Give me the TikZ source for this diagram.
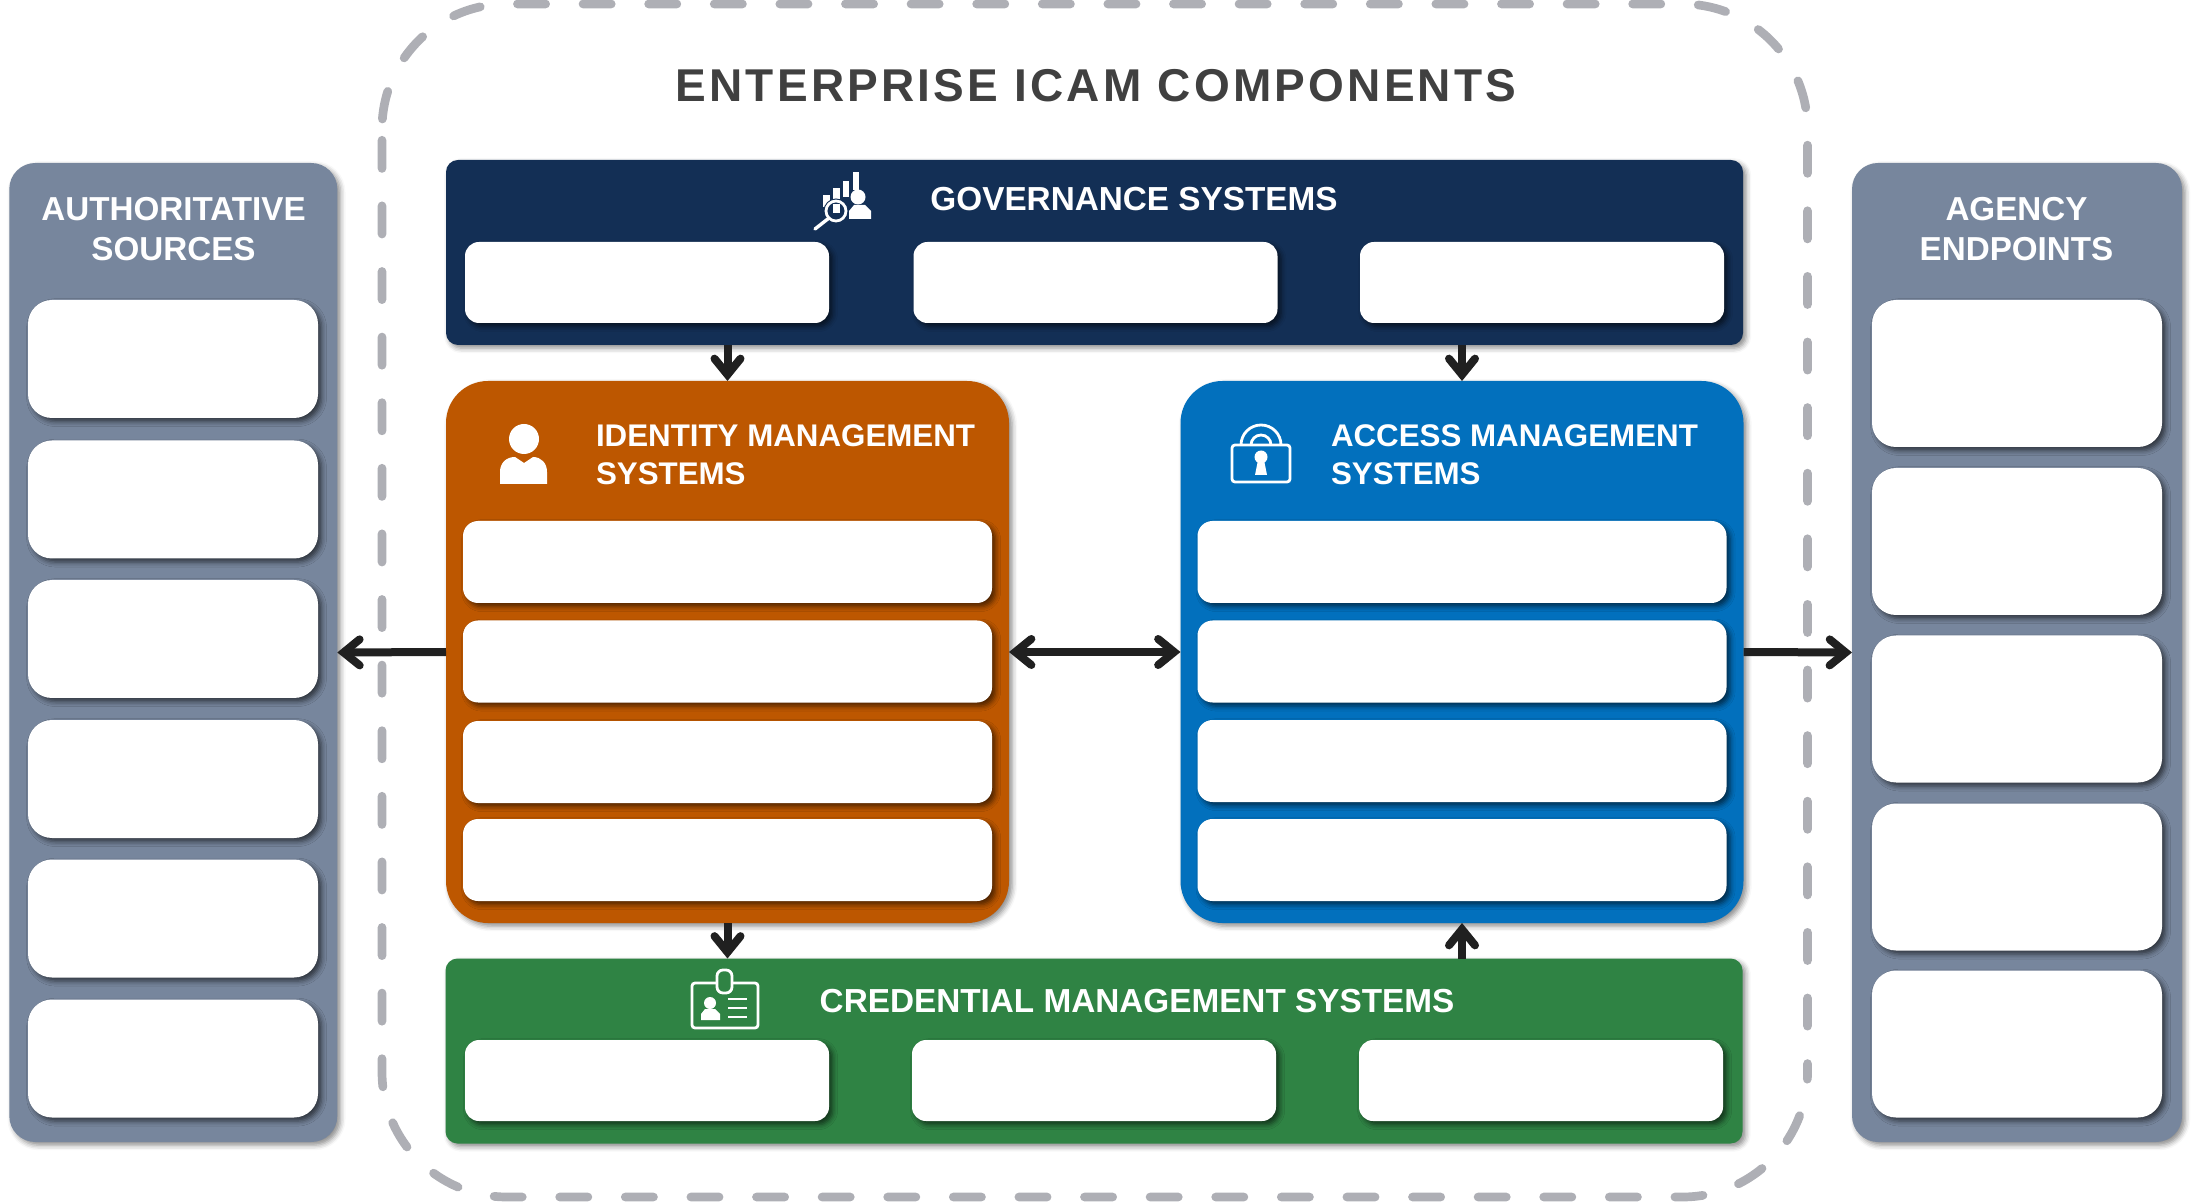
\documentclass[tikz,border=0pt]{standalone}
\usepackage{fontspec}
\setmainfont{Liberation Sans}
\usepackage{tikz}
\usetikzlibrary{arrows.meta,shadows.blur}
\definecolor{navy}{HTML}{132F55}
\definecolor{rust}{HTML}{BD5700}
\definecolor{azure}{HTML}{0270BD}
\definecolor{leaf}{HTML}{2F8344}
\definecolor{slate}{HTML}{77869D}
\definecolor{dashgrey}{HTML}{AEAFB5}
\definecolor{ink}{HTML}{202020}
\definecolor{titlegrey}{HTML}{404040}

\begin{document}
\begin{tikzpicture}[x=0.5pt,y=-0.5pt]
\tikzstyle{every node}+=[inner sep=0pt,outer sep=0pt]
\tikzstyle{soft}=[blur shadow={shadow xshift=1.6pt,shadow yshift=-1.6pt,shadow blur radius=2.5pt,shadow opacity=45}]
\tikzstyle{softer}=[blur shadow={shadow xshift=1.8pt,shadow yshift=-1.8pt,shadow blur radius=2.5pt,shadow opacity=60}]
\tikzstyle{outer}=[rectangle,soft]
\tikzstyle{sidepanel}=[outer,fill=slate,rounded corners=13pt,minimum height=489.5pt]
\tikzstyle{barpanel}=[outer,rounded corners=6pt,minimum width=648.5pt,minimum height=92.5pt]
\tikzstyle{tallpanel}=[outer,rounded corners=21pt,minimum width=281.5pt,minimum height=271pt]
\tikzstyle{sideitem}=[rectangle,softer,fill=white,rounded corners=12pt,minimum width=145pt]
\tikzstyle{baritem}=[rectangle,softer,fill=white,rounded corners=7pt,minimum width=182pt,minimum height=40.5pt]
\tikzstyle{wideitem}=[rectangle,softer,fill=white,rounded corners=7.5pt,minimum width=264.5pt,minimum height=41pt]
\tikzstyle{heading}=[text=white,font=\bfseries\fontsize{16.6}{20}\selectfont,align=center]
\tikzstyle{headleft}=[text=white,font=\bfseries\fontsize{15.65}{19}\selectfont,align=left,anchor=west]
\tikzstyle{barhead}=[text=white,font=\bfseries\fontsize{16.65}{20}\selectfont]
\tikzstyle{link}=[ink,line width=4pt,line cap=butt,arrows={-Straight Barb[length=8pt,width=13pt,line cap=round,line join=miter]}]
\tikzstyle{iconline}=[white,line width=1.4pt]
\tikzstyle{frameline}=[dashgrey,line width=4.35pt,line cap=round,dash pattern=on 14.1pt off 18.7pt]
\path [use as bounding box] (0,0) rectangle (2194,1202);

\draw [frameline,dash phase=27.8pt] (382,129) arc (180:270:125) -- (1682.5,4) arc (270:360:125) -- (1807.5,1072);
\draw [frameline,dash phase=10.5pt] (1807.5,1072) arc (0:90:125) -- (507,1197) arc (90:180:125) -- (382,129);
\node [text=titlegrey,font=\bfseries\fontsize{23}{28}\selectfont\addfontfeature{LetterSpace=7}] (title) at (1096,86) {ENTERPRISE ICAM COMPONENTS};

\node [sidepanel,minimum width=164pt] (sources) at (173.3,652.5) {};
\node [heading] (sourcestitle) at (173.5,229) {AUTHORITATIVE\\SOURCES};
\node [sideitem,minimum height=59pt] (source1) at (173,359) {};
\node [sideitem,minimum height=59pt] (source2) at (173,499.5) {};
\node [sideitem,minimum height=59pt] (source3) at (173,639) {};
\node [sideitem,minimum height=59pt] (source4) at (173,779) {};
\node [sideitem,minimum height=59pt] (source5) at (173,918.5) {};
\node [sideitem,minimum height=59pt] (source6) at (173,1058.5) {};

\node [sidepanel,minimum width=165pt] (endpoints) at (2017,652.5) {};
\node [heading] (endpointstitle) at (2016.5,229) {AGENCY\\ENDPOINTS};
\node [sideitem,minimum height=73.5pt] (endpoint1) at (2017,373.5) {};
\node [sideitem,minimum height=73.5pt] (endpoint2) at (2017,541.5) {};
\node [sideitem,minimum height=73.5pt] (endpoint3) at (2017,709) {};
\node [sideitem,minimum height=73.5pt] (endpoint4) at (2017,877) {};
\node [sideitem,minimum height=73.5pt] (endpoint5) at (2017,1044) {};

\node [barpanel,fill=navy] (gov) at (1094.5,252.5) {};
\node [barhead] (govtitle) at (1134,199) {GOVERNANCE SYSTEMS};
\node [baritem] (gov1) at (647,282.5) {};
\node [baritem] (gov2) at (1095.5,282.5) {};
\node [baritem] (gov3) at (1542,282.5) {};

\node [tallpanel,fill=rust] (idm) at (727.5,652) {};
\node [headleft] (idmtitle) at (596,455) {IDENTITY MANAGEMENT\\SYSTEMS};
\node [wideitem] (idm1) at (727.5,562) {};
\node [wideitem] (idm2) at (727.5,661.5) {};
\node [wideitem] (idm3) at (727.5,762) {};
\node [wideitem] (idm4) at (727.5,860) {};

\node [tallpanel,fill=azure] (acm) at (1462,652) {};
\node [headleft] (acmtitle) at (1331,455) {ACCESS MANAGEMENT\\SYSTEMS};
\node [wideitem] (acm1) at (1462,562) {};
\node [wideitem] (acm2) at (1462,661.5) {};
\node [wideitem] (acm3) at (1462,761) {};
\node [wideitem] (acm4) at (1462,860) {};

\node [barpanel,fill=leaf] (cred) at (1094,1051) {};
\node [barhead] (credtitle) at (1137,1001) {CREDENTIAL MANAGEMENT SYSTEMS};
\node [baritem] (cred1) at (647,1080.5) {};
\node [baritem] (cred2) at (1094,1080.5) {};
\node [baritem] (cred3) at (1541,1080.5) {};

\draw [link] (idm |- gov.south) -- (idm.north);
\draw [link] (acm |- gov.south) -- (acm.north);
\draw [link] (idm.south) -- (idm |- cred.north);
\draw [link] (acm |- cred.north) -- (acm.south);
\draw [link] (idm.west) -- (sources.east);
\draw [link] (acm.east) -- (endpoints.west);
\draw [link,arrows={Straight Barb[length=8pt,width=13pt,line cap=round,line join=miter]-Straight Barb[length=8pt,width=13pt,line cap=round,line join=miter]}] (idm.east) -- (acm.west);

\fill [white] (823,195) rectangle (830,207);
\fill [white] (833,188) rectangle (840,203);
\fill [white] (843,181) rectangle (849,197);
\fill [white] (853,172) rectangle (859,190);
\fill [white] (858,197) circle (7.5);
\fill [white] (849,219) -- (849,211) -- (854,205) -- (865,205) -- (871,211) -- (871,219) -- cycle;
\fill [navy] (836,211) circle (12.5);
\fill [white] (833,204) rectangle (840,213);
\draw [iconline] (836,211) circle (10);
\draw [iconline,line width=1.7pt,line cap=round] (829,218) -- (815,229);

\fill [white] (524,439) circle (15);
\fill [white] (500,484) -- (500,472) .. controls (500,463) and (506,457) .. (515,457) -- (524,463) -- (533,457) .. controls (541,457) and (547,463) .. (547,472) -- (547,484) -- cycle;

\draw [iconline,rounded corners=1.5pt] (1232,445) rectangle (1290,482);
\draw [iconline] (1241,445) arc (180:360:20);
\draw [iconline] (1251,445) arc (180:360:10);
\fill [white] (1261,457) circle (6.5);
\fill [white] (1258,460) -- (1255,475) -- (1267,475) -- (1264,460) -- cycle;

\draw [iconline,rounded corners=1.5pt] (692,983) rectangle (758,1028);
\draw [iconline,fill=leaf,rounded corners=3pt] (717,970) rectangle (732,993);
\fill [white] (710,1003) circle (6);
\fill [white] (701,1020) -- (701,1014) -- (705,1009) -- (715,1009) -- (720,1014) -- (720,1020) -- cycle;
\draw [iconline] (728,999) -- (747,999);
\draw [iconline] (728,1008) -- (747,1008);
\draw [iconline] (728,1017) -- (747,1017);
\end{tikzpicture}
\end{document}
